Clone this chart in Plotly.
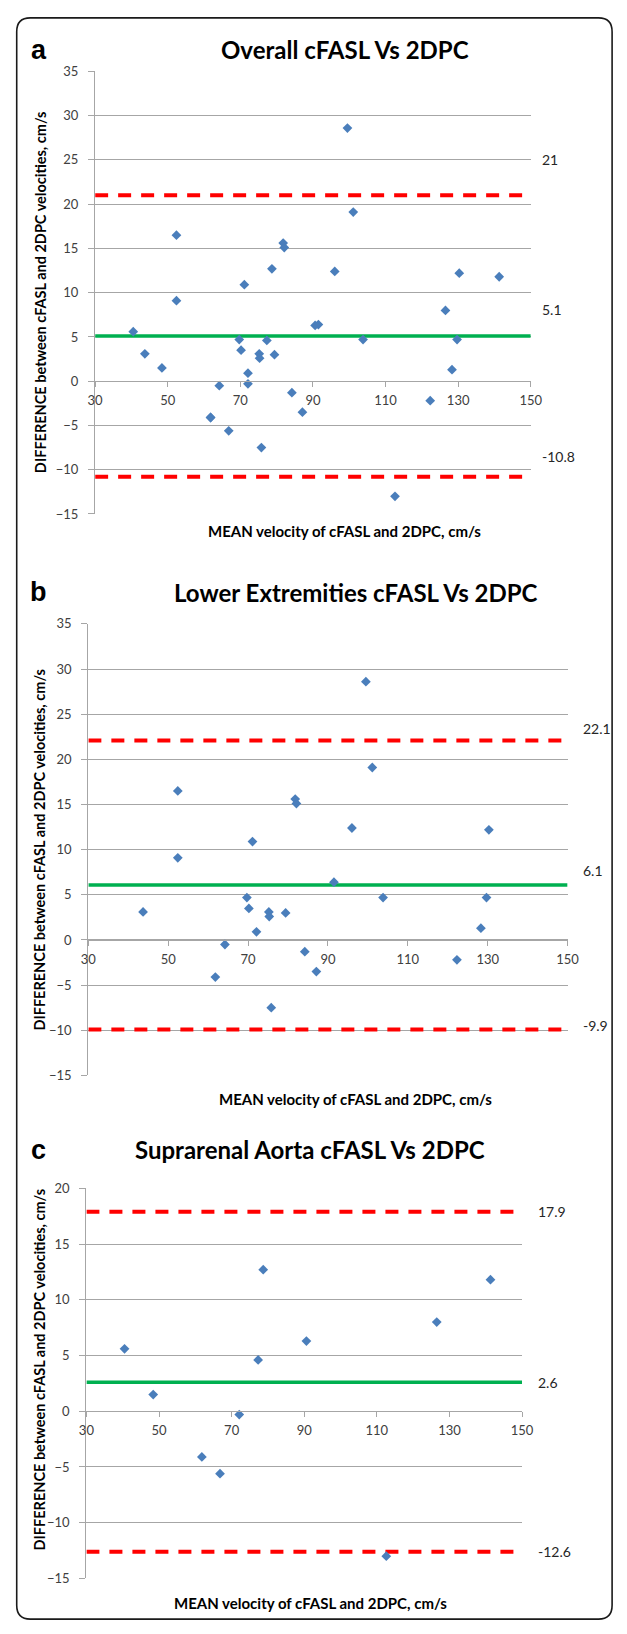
import plotly.graph_objects as go

# ---------------- data ----------------
lower_mean = [43.7, 52.4, 52.4, 61.8, 64.2, 69.7, 70.2, 71.1, 72.1, 75.2, 75.3, 75.8, 79.4,
              81.8, 82.1, 84.2, 87.1, 91.5, 96.0, 99.5, 101.1, 103.8, 122.3, 128.3, 129.7, 130.3]
lower_diff = [3.1, 16.5, 9.1, -4.1, -0.5, 4.7, 3.5, 10.9, 0.9, 3.1, 2.6, -7.5, 3.0,
              15.6, 15.1, -1.3, -3.5, 6.4, 12.4, 28.6, 19.1, 4.7, -2.2, 1.3, 4.7, 12.2]

supra_mean = [40.5, 48.4, 61.8, 66.8, 72.1, 77.3, 78.7, 90.6, 112.6, 126.5, 141.3]
supra_diff = [5.6, 1.5, -4.1, -5.6, -0.3, 4.6, 12.7, 6.3, -13.0, 8.0, 11.8]

overall_mean = lower_mean + supra_mean
overall_diff = lower_diff + supra_diff

panel_letters = ["a", "b", "c"]
panel_titles = ["Overall cFASL Vs 2DPC", "Lower Extremities cFASL Vs 2DPC",
                "Suprarenal Aorta cFASL Vs 2DPC"]
mean_bias = [5.1, 6.1, 2.6]
upper_loa = [21.0, 22.1, 17.9]
lower_loa = [-10.8, -9.9, -12.6]

x_ticks = [30, 50, 70, 90, 110, 130, 150]
x_range = [30, 150]
y_ranges = [[-15, 35], [-15, 35], [-15, 20]]

x_title = "MEAN velocity of cFASL and 2DPC, cm/s"
y_title = "DIFFERENCE between cFASL and 2DPC velocities, cm/s"

# ---------------- layout geometry (pixels) ----------------
W, H = 627, 1634
boxes = [(90, 540, 64, 511), (83, 578, 622, 1078), (81, 531, 1192, 1586)]
title_y = [42, 590, 1153]
title_cx = [348, 359, 312]
xtitle_y = [528, 1102, 1611]
ytitle_cy = [287, 850, 1375]
ytitle_cx = 33
label_xshift = [9, 13, 14]
label_yshift = [[36, 27, 20], [12, 14, 4], [0, 0, 0]]

FONT = "Lato"
BLUE = "#4a7ebb"
GRID = "#a6a6a6"
TXT = "#404040"

datasets = [(overall_mean, overall_diff), (lower_mean, lower_diff), (supra_mean, supra_diff)]

fig = go.Figure()
annotations = []
layout_axes = {}

def px(x):
    return x / W

def py(y):
    return 1 - y / H

for i in range(3):
    n = "" if i == 0 else str(i + 1)
    xa, ya = "x" + n, "y" + n
    l, r, t, b = boxes[i]
    mx, md = datasets[i]
    y0d, y1d = py(b), py(t)
    lo, hi = y_ranges[i]
    zero_pos = y0d + (0 - lo) / (hi - lo) * (y1d - y0d)   # where the x axis crosses (y = 0)

    for val, col, dash, wdt in [(upper_loa[i], "#ff0000", "13px,10px", 4),
                                 (lower_loa[i], "#ff0000", "13px,10px", 4),
                                 (mean_bias[i], "#00b050", "solid", 3.5)]:
        fig.add_trace(go.Scatter(x=x_range, y=[val, val], mode="lines",
                                 line=dict(color=col, width=wdt, dash=dash),
                                 xaxis=xa, yaxis=ya, showlegend=False, hoverinfo="skip"))
    fig.add_trace(go.Scatter(x=mx, y=md, mode="markers",
                             marker=dict(symbol="diamond", size=7.5, color=BLUE, line=dict(width=0)),
                             xaxis=xa, yaxis=ya, showlegend=False))

    layout_axes["xaxis" + n] = dict(domain=[px(l), px(r)], range=x_range, anchor="free",
                                    position=zero_pos, tickvals=x_ticks,
                                    showgrid=False, zeroline=False,
                                    showline=True, linecolor=GRID, linewidth=1.3,
                                    ticks="outside", ticklen=5, tickcolor=GRID,
                                    ticklabelstandoff=2,
                                    tickfont=dict(family=FONT, size=13, color=TXT),
                                    fixedrange=True)
    layout_axes["yaxis" + n] = dict(domain=[y0d, y1d], range=y_ranges[i], anchor=xa,
                                    dtick=5, tick0=0, showgrid=True, gridcolor=GRID, gridwidth=1.2,
                                    zeroline=False,
                                    showline=True, linecolor=GRID, linewidth=1.3,
                                    ticks="outside", ticklen=6, tickcolor=GRID,
                                    ticklabelstandoff=7,
                                    tickfont=dict(family=FONT, size=13, color=TXT),
                                    fixedrange=True)

    for val, ys in zip([upper_loa[i], mean_bias[i], lower_loa[i]], label_yshift[i]):
        annotations.append(dict(x=x_range[1], y=val, xref=xa, yref=ya, text=f"{val:g}",
                                showarrow=False, xanchor="left", yanchor="middle",
                                xshift=label_xshift[i], yshift=ys,
                                font=dict(family=FONT, size=14, color="#262626")))

    annotations.append(dict(x=px(32), y=py(title_y[i]), xref="paper", yref="paper",
                            text="<b>" + panel_letters[i] + "</b>", showarrow=False,
                            xanchor="center", yanchor="middle",
                            font=dict(family="Liberation Sans", size=27, color="black")))
    annotations.append(dict(x=px(title_cx[i]), y=py(title_y[i]), xref="paper", yref="paper",
                            text="<b>" + panel_titles[i] + "</b>", showarrow=False,
                            xanchor="center", yanchor="middle",
                            font=dict(family=FONT, size=24, color="black")))
    annotations.append(dict(x=px(title_cx[i]), y=py(xtitle_y[i]), xref="paper", yref="paper",
                            text="<b>" + x_title + "</b>", showarrow=False,
                            xanchor="center", yanchor="middle",
                            font=dict(family=FONT, size=15, color="black")))
    annotations.append(dict(x=px(ytitle_cx), y=py(ytitle_cy[i]), xref="paper", yref="paper",
                            text="<b>" + y_title + "</b>", showarrow=False, textangle=-90,
                            xanchor="center", yanchor="middle",
                            font=dict(family=FONT, size=14.5, color="black")))

# rounded frame around the whole figure
x0, x1, y0, y1, rr = 9, 624, 10, 1627, 14
def P(x, y):
    return f"{px(x):.5f},{py(y):.5f}"
frame = (f"M {P(x0 + rr, y0)} L {P(x1 - rr, y0)} Q {P(x1, y0)} {P(x1, y0 + rr)} "
         f"L {P(x1, y1 - rr)} Q {P(x1, y1)} {P(x1 - rr, y1)} L {P(x0 + rr, y1)} "
         f"Q {P(x0, y1)} {P(x0, y1 - rr)} L {P(x0, y0 + rr)} Q {P(x0, y0)} {P(x0 + rr, y0)} Z")

fig.update_layout(
    width=W, height=H, margin=dict(l=0, r=0, t=0, b=0),
    paper_bgcolor="white", plot_bgcolor="white",
    annotations=annotations,
    shapes=[dict(type="path", path=frame, xref="paper", yref="paper",
                 line=dict(color="#1a1a1a", width=1.6), layer="above")],
    **layout_axes,
)

fig.write_html("out.html", config={"displayModeBar": False},
               post_script="document.body.style.margin='0';")
